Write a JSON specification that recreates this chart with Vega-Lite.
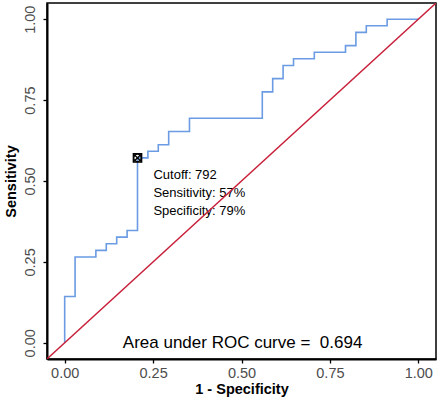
{
  "$schema": "https://vega.github.io/schema/vega-lite/v6.json",
  "width": 389,
  "height": 356,
  "autosize": "none",
  "padding": {"left": 47, "top": 3, "right": 4, "bottom": 43},
  "background": "white",
  "config": {
    "font": "Liberation Sans",
    "view": {"stroke": "black", "strokeWidth": 1.5},
    "axis": {
      "grid": false,
      "domainColor": "black",
      "domainWidth": 2,
      "tickColor": "black",
      "tickWidth": 1.3,
      "tickSize": 4,
      "labelColor": "#4D4D4D",
      "labelFont": "Liberation Sans",
      "labelFontSize": 14.5,
      "titleFont": "Liberation Sans",
      "titleFontSize": 14.5,
      "titleFontWeight": "bold",
      "titleColor": "black"
    }
  },
  "datasets": {
    "roc": [
      {"i": 0, "fpr": 0, "sens": 0},
      {"i": 1, "fpr": 0, "sens": 0.1429},
      {"i": 2, "fpr": 0.0294, "sens": 0.1429},
      {"i": 3, "fpr": 0.0294, "sens": 0.2653},
      {"i": 4, "fpr": 0.0882, "sens": 0.2653},
      {"i": 5, "fpr": 0.0882, "sens": 0.2857},
      {"i": 6, "fpr": 0.1176, "sens": 0.2857},
      {"i": 7, "fpr": 0.1176, "sens": 0.3061},
      {"i": 8, "fpr": 0.1471, "sens": 0.3061},
      {"i": 9, "fpr": 0.1471, "sens": 0.3265},
      {"i": 10, "fpr": 0.1765, "sens": 0.3265},
      {"i": 11, "fpr": 0.1765, "sens": 0.3469},
      {"i": 12, "fpr": 0.2059, "sens": 0.3469},
      {"i": 13, "fpr": 0.2059, "sens": 0.5714},
      {"i": 14, "fpr": 0.2353, "sens": 0.5714},
      {"i": 15, "fpr": 0.2353, "sens": 0.5918},
      {"i": 16, "fpr": 0.2647, "sens": 0.5918},
      {"i": 17, "fpr": 0.2647, "sens": 0.6122},
      {"i": 18, "fpr": 0.2941, "sens": 0.6122},
      {"i": 19, "fpr": 0.2941, "sens": 0.6531},
      {"i": 20, "fpr": 0.3529, "sens": 0.6531},
      {"i": 21, "fpr": 0.3529, "sens": 0.6939},
      {"i": 22, "fpr": 0.5588, "sens": 0.6939},
      {"i": 23, "fpr": 0.5588, "sens": 0.7755},
      {"i": 24, "fpr": 0.5882, "sens": 0.7755},
      {"i": 25, "fpr": 0.5882, "sens": 0.8163},
      {"i": 26, "fpr": 0.6176, "sens": 0.8163},
      {"i": 27, "fpr": 0.6176, "sens": 0.8571},
      {"i": 28, "fpr": 0.6471, "sens": 0.8571},
      {"i": 29, "fpr": 0.6471, "sens": 0.8776},
      {"i": 30, "fpr": 0.7059, "sens": 0.8776},
      {"i": 31, "fpr": 0.7059, "sens": 0.898},
      {"i": 32, "fpr": 0.7941, "sens": 0.898},
      {"i": 33, "fpr": 0.7941, "sens": 0.9184},
      {"i": 34, "fpr": 0.8235, "sens": 0.9184},
      {"i": 35, "fpr": 0.8235, "sens": 0.9592},
      {"i": 36, "fpr": 0.8529, "sens": 0.9592},
      {"i": 37, "fpr": 0.8529, "sens": 0.9796},
      {"i": 38, "fpr": 0.9118, "sens": 0.9796},
      {"i": 39, "fpr": 0.9118, "sens": 1},
      {"i": 40, "fpr": 1, "sens": 1}
    ],
    "diag": [
      {"i": 0, "fpr": -0.05, "sens": -0.05},
      {"i": 1, "fpr": 1.05, "sens": 1.05}
    ],
    "cut": [{"fpr": 0.2059, "sens": 0.5714}],
    "notes": [
      {"fpr": 0.251, "sens": 0.519, "label": "Cutoff: 792"},
      {"fpr": 0.251, "sens": 0.463, "label": "Sensitivity: 57%"},
      {"fpr": 0.251, "sens": 0.406, "label": "Specificity: 79%"}
    ],
    "auc": [{"fpr": 0.503, "sens": 0.0, "label": "Area under ROC curve = \u00a00.694"}]
  },
  "encoding": {
    "x": {
      "field": "fpr", "type": "quantitative",
      "scale": {"domain": [-0.05, 1.05], "nice": false, "zero": false},
      "axis": {"title": "1 - Specificity", "values": [0, 0.25, 0.5, 0.75, 1], "format": ".2f", "labelPadding": 3, "titlePadding": 3}
    },
    "y": {
      "field": "sens", "type": "quantitative",
      "scale": {"domain": [-0.05, 1.05], "nice": false, "zero": false},
      "axis": {"title": "Sensitivity", "values": [0, 0.25, 0.5, 0.75, 1], "format": ".2f", "labelAngle": -90, "labelAlign": "center", "labelBaseline": "bottom", "labelPadding": 6, "titlePadding": 4}
    }
  },
  "layer": [
    {
      "data": {"name": "roc"},
      "mark": {"type": "line", "color": "#6A9BE3", "strokeWidth": 1.6, "clip": true},
      "encoding": {"order": {"field": "i", "type": "quantitative"}}
    },
    {
      "data": {"name": "cut"},
      "mark": {"type": "point", "shape": "square", "filled": false, "stroke": "black", "strokeWidth": 1.3, "size": 70, "opacity": 1}
    },
    {
      "data": {"name": "cut"},
      "mark": {"type": "point", "shape": "M-1,-1L1,1M1,-1L-1,1", "filled": false, "stroke": "black", "strokeWidth": 1.3, "size": 70, "opacity": 1}
    },
    {
      "data": {"name": "cut"},
      "mark": {"type": "point", "shape": "circle", "filled": false, "stroke": "black", "strokeWidth": 1.3, "size": 55, "opacity": 1}
    },
    {
      "data": {"name": "notes"},
      "mark": {"type": "text", "align": "left", "baseline": "middle", "fontSize": 13, "color": "black", "font": "Liberation Sans"},
      "encoding": {"text": {"field": "label"}}
    },
    {
      "data": {"name": "auc"},
      "mark": {"type": "text", "align": "center", "baseline": "middle", "fontSize": 17, "color": "black", "font": "Liberation Sans"},
      "encoding": {"text": {"field": "label"}}
    },
    {
      "data": {"name": "diag"},
      "mark": {"type": "line", "color": "#C8203A", "strokeWidth": 1.4, "clip": true},
      "encoding": {"order": {"field": "i", "type": "quantitative"}}
    }
  ]
}
